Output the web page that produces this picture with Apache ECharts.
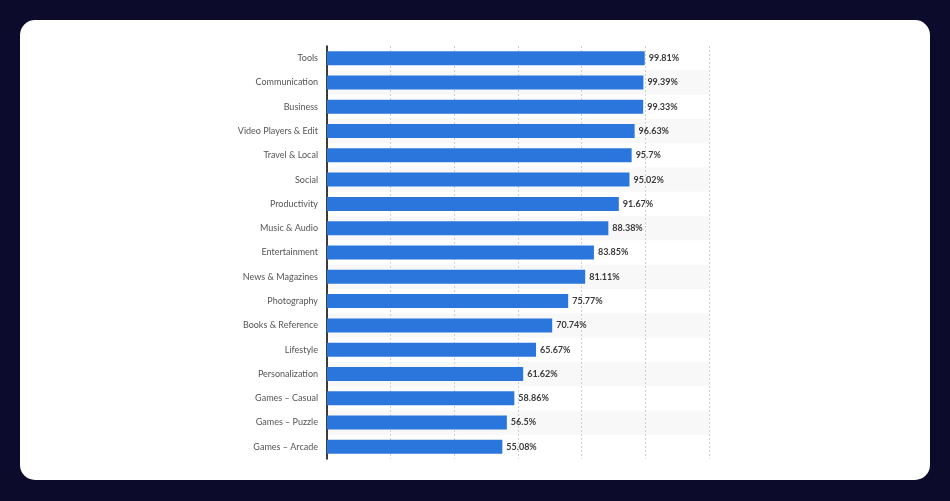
<!DOCTYPE html>
<html>
<head>
<meta charset="utf-8">
<script src="https://cdn.jsdelivr.net/npm/echarts@6/dist/echarts.min.js"></script>
<style>
  html, body { margin: 0; padding: 0; background: #0c0b2c; }
  #card { position: absolute; left: 20px; top: 20px; width: 910px; height: 460px; background: #ffffff; border-radius: 15px; }
  #chart { position: absolute; left: 0; top: 0; width: 950px; height: 501px; }
</style>
</head>
<body>
<div id="card"></div>
<div id="chart"></div>
<script>
const categories = ['Tools', 'Communication', 'Business', 'Video Players & Edit', 'Travel & Local', 'Social', 'Productivity', 'Music & Audio', 'Entertainment', 'News & Magazines', 'Photography', 'Books & Reference', 'Lifestyle', 'Personalization', 'Games – Casual', 'Games – Puzzle', 'Games – Arcade'];
const values = [99.81, 99.39, 99.33, 96.63, 95.7, 95.02, 91.67, 88.38, 83.85, 81.11, 75.77, 70.74, 65.67, 61.62, 58.86, 56.5, 55.08];
const valueLabels = ['99.81%', '99.39%', '99.33%', '96.63%', '95.7%', '95.02%', '91.67%', '88.38%', '83.85%', '81.11%', '75.77%', '70.74%', '65.67%', '61.62%', '58.86%', '56.5%', '55.08%'];

const chart = echarts.init(document.getElementById('chart'), null, { renderer: 'canvas' });
chart.setOption({
  backgroundColor: 'transparent',
  animation: false,
  grid: { left: 327, right: 241, top: 46, bottom: 42, containLabel: false },
  xAxis: {
    type: 'value', min: 0, max: 120, interval: 20,
    axisLine: { show: false }, axisTick: { show: false }, axisLabel: { show: false },
    splitLine: { show: true, lineStyle: { color: '#cfcfcf', type: [2, 2], width: 1 } }
  },
  yAxis: {
    type: 'category', inverse: true, data: categories,
    axisLine: { show: true, lineStyle: { color: '#000', width: 1.5 } },
    axisTick: { show: false },
    axisLabel: { color: '#555', fontSize: 9, fontFamily: 'Lato', margin: 9 },
    splitArea: { show: true, areaStyle: { color: ['rgba(255,255,255,0)', '#f8f8f8'] } }
  },
  series: [{
    type: 'bar', data: values, barWidth: 14,
    itemStyle: { color: '#2a76dd' },
    label: {
      show: true, position: 'right', distance: 4,
      color: '#3a3a3a', fontSize: 9, fontWeight: 'bold', fontFamily: 'Lato',
      formatter: p => valueLabels[p.dataIndex]
    }
  }]
});
</script>
</body>
</html>
